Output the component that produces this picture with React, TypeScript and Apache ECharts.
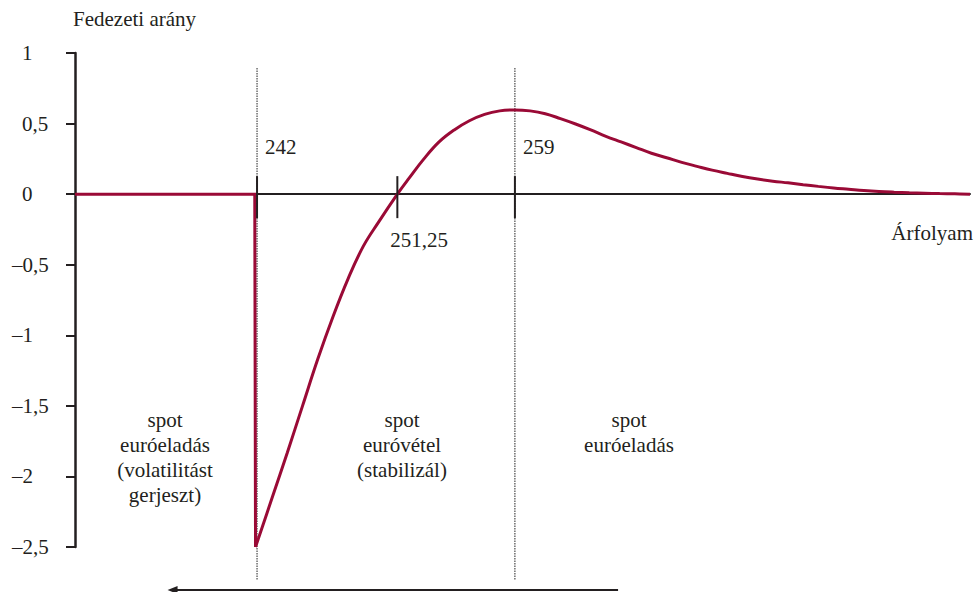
import React, { useEffect, useRef } from "react";
import * as echarts from "echarts";

// Curve: hedge ratio (Fedezeti arány) vs exchange rate (Árfolyam)
const rateX = [230, 241.85, 241.9, 243, 244, 245, 246, 247, 248, 249, 250, 251.25, 252, 253, 254, 255, 256, 257, 258, 259, 260, 261, 262, 263, 264, 265, 266, 267, 268, 269, 270, 271, 272, 273, 274, 275, 276, 277, 278, 279, 280, 281, 282, 283, 284, 285, 286, 287, 288, 289];
const hedgeY = [0, 0, -2.5, -2.15, -1.83, -1.5, -1.17, -0.87, -0.6, -0.37, -0.2, 0, 0.11, 0.25, 0.37, 0.455, 0.52, 0.565, 0.59, 0.597, 0.59, 0.57, 0.535, 0.497, 0.455, 0.41, 0.37, 0.33, 0.29, 0.258, 0.225, 0.197, 0.17, 0.147, 0.125, 0.107, 0.092, 0.08, 0.067, 0.055, 0.044, 0.035, 0.026, 0.019, 0.014, 0.01, 0.007, 0.004, 0.002, 0];
// index where the vertical jump ends and the smooth part begins
const jumpEnd = 2;

const tickX = [242, 251.25, 259];
const tickLabels = ["242", "251,25", "259"];
const tickLabelSide = ["above", "below", "above"];
const guideX = [242, 259];
const arrowFromTo = [265.8, 236.1];

const yTicks = [-2.5, -2, -1.5, -1, -0.5, 0, 0.5, 1];

const FONT = "Liberation Serif";
const FS = 21;
const INK = "#231f20";
const RED = "#9a0a36";

export default function App() {
  const ref = useRef<HTMLDivElement>(null);
  useEffect(() => {
    if (!ref.current) return;
    const chart = echarts.init(ref.current, null, { renderer: "svg" });
    const fmt = (v: number) => {
      const s = String(Math.abs(v)).replace(".", ",");
      return v < 0 ? "–" + s : "{p|" + s + "}";
    };
    const pts = rateX.map((x, i) => [x, hedgeY[i]]);
    const txt = (text: string, x: number, y: number) => ({
      type: "text",
      x,
      y,
      style: {
        text,
        fill: INK, fontFamily: FONT, fontSize: FS, lineHeight: 25,
        align: "center", textAlign: "center", verticalAlign: "top",
      },
    });
    chart.setOption({
      animation: false,
      textStyle: { fontFamily: FONT },
      grid: { left: 75, right: 6, top: 53, bottom: 45, containLabel: false },
      xAxis: {
        type: "value",
        min: 230,
        max: 289,
        axisLine: { onZero: true, lineStyle: { color: INK, width: 2 } },
        axisTick: { show: false },
        axisLabel: { show: false },
        splitLine: { show: false },
      },
      yAxis: {
        type: "value",
        min: yTicks[0],
        max: yTicks[yTicks.length - 1],
        interval: 0.5,
        axisLine: { show: true, onZero: false, lineStyle: { color: INK, width: 2.5 } },
        axisTick: { show: true, length: 9, lineStyle: { color: INK, width: 2 } },
        splitLine: { show: false },
        axisLabel: {
          formatter: fmt,
          align: "left",
          margin: 63,
          fontSize: FS,
          fontFamily: FONT,
          color: INK,
          rich: { p: { padding: [0, 0, 0, 10], fontSize: FS, fontFamily: FONT, color: INK } },
        },
      },
      series: [
        {
          type: "custom",
          silent: true,
          data: guideX.map((x) => [x]),
          renderItem: (params: any, api: any) => {
            const x = api.value(0);
            const top = api.coord([x, 1]);
            const bot = api.coord([x, -2.5]);
            return {
              type: "line",
              shape: { x1: top[0], y1: top[1] + 15, x2: bot[0], y2: bot[1] + 33 },
              style: { stroke: "#222", lineWidth: 1, lineDash: [1.5, 1] },
            };
          },
        },
        {
          type: "line",
          data: pts.slice(0, jumpEnd + 1),
          showSymbol: false,
          smooth: false,
          lineStyle: { color: RED, width: 3, join: "miter" },
          z: 5,
        },
        {
          type: "line",
          data: pts.slice(jumpEnd),
          showSymbol: false,
          smooth: 0.4,
          lineStyle: { color: RED, width: 3 },
          z: 5,
        },
        {
          type: "custom",
          silent: true,
          z: 6,
          data: tickX.map((x) => [x]),
          renderItem: (params: any, api: any) => {
            const i = params.dataIndex;
            const p = api.coord([api.value(0), 0]);
            const above = tickLabelSide[i] === "above";
            return {
              type: "group",
              children: [
                {
                  type: "line",
                  shape: { x1: p[0], y1: p[1] - 18, x2: p[0], y2: p[1] + 24 },
                  style: { stroke: INK, lineWidth: 2 },
                },
                {
                  type: "text",
                  style: {
                    text: tickLabels[i],
                    x: above ? p[0] + 8 : p[0] - 7,
                    y: above ? p[1] - 47 : p[1] + 46,
                    fill: INK,
                    fontFamily: FONT,
                    fontSize: FS,
                    align: "left",
                    verticalAlign: "middle",
                  },
                },
              ],
            };
          },
        },
        {
          type: "custom",
          silent: true,
          data: [arrowFromTo],
          renderItem: (params: any, api: any) => {
            const a = api.coord([api.value(0), -2.5]);
            const b = api.coord([api.value(1), -2.5]);
            const y = a[1] + 43;
            return {
              type: "group",
              children: [
                {
                  type: "line",
                  shape: { x1: a[0], y1: y, x2: b[0] + 6, y2: y },
                  style: { stroke: INK, lineWidth: 2 },
                },
                {
                  type: "polygon",
                  shape: { points: [[b[0], y], [b[0] + 10, y - 4], [b[0] + 10, y + 4]] },
                  style: { fill: INK },
                },
              ],
            };
          },
        },
      ],
      graphic: [
        {
          type: "text",
          left: 73,
          top: 8,
          style: { text: "Fedezeti arány", fill: INK, fontFamily: FONT, fontSize: FS },
        },
        {
          type: "text",
          right: 3,
          top: 222,
          style: { text: "Árfolyam", fill: INK, fontFamily: FONT, fontSize: FS },
        },
        txt("spot\neuróeladás\n(volatilitást\ngerjeszt)", 165, 407),
        txt("spot\neuróvétel\n(stabilizál)", 402, 407),
        txt("spot\neuróeladás", 629, 407),
      ],
    });
    return () => chart.dispose();
  }, []);
  return (
    <div
      ref={ref}
      style={{ position: "fixed", left: 0, top: 0, width: 976, height: 592, background: "#fff" }}
    />
  );
}
